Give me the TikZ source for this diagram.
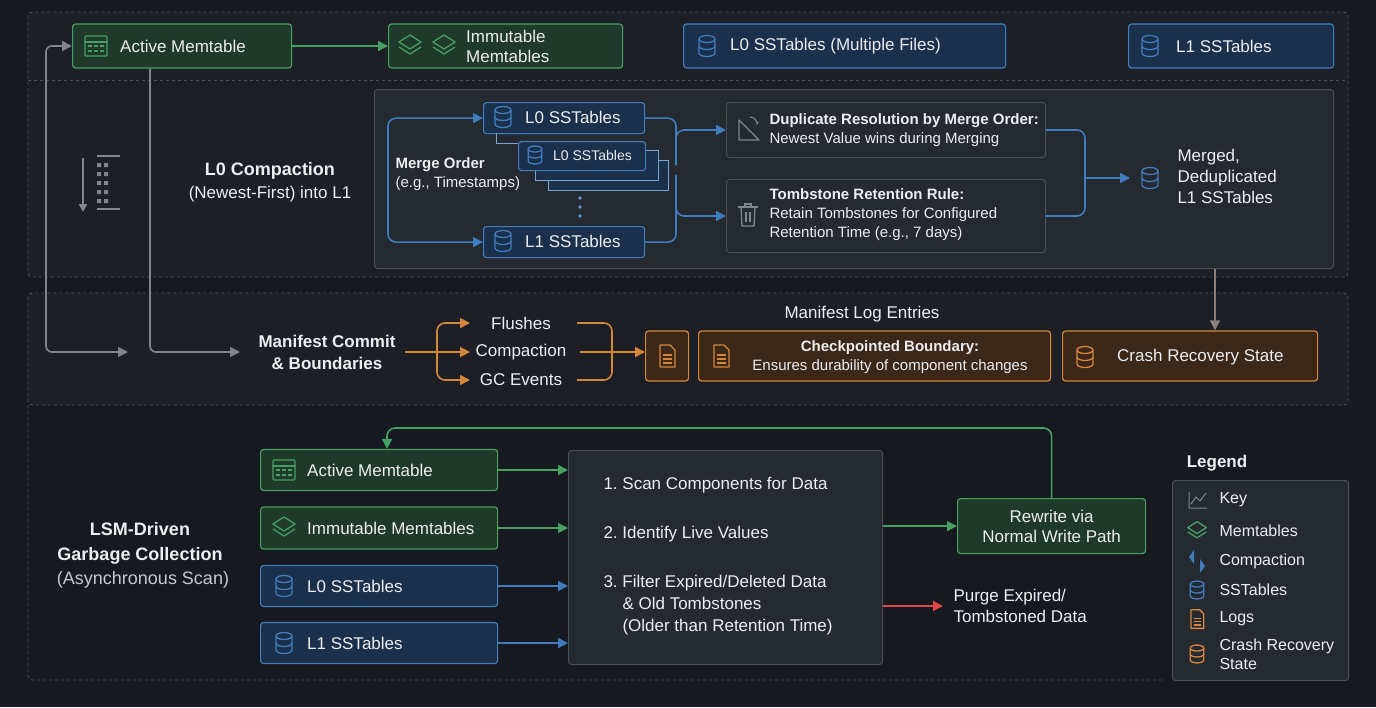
\documentclass[tikz,border=0pt]{standalone}
\usepackage{fontspec}
\setmainfont{Liberation Sans}
\usetikzlibrary{arrows.meta,positioning}
\frenchspacing
\definecolor{bg}{HTML}{16191F}
\definecolor{secfill}{HTML}{1C1F26}
\definecolor{dashc}{HTML}{4A4F59}
\definecolor{gfill}{HTML}{1F3A2A}
\definecolor{gline}{HTML}{45A062}
\definecolor{bfill}{HTML}{1B304B}
\definecolor{bline}{HTML}{3F7DC0}
\definecolor{ofill}{HTML}{3B2818}
\definecolor{oline}{HTML}{D7863A}
\definecolor{ifill}{HTML}{252930}
\definecolor{iline}{HTML}{4A4E57}
\definecolor{grayc}{HTML}{80858E}
\definecolor{brownc}{HTML}{8A8079}
\definecolor{redc}{HTML}{E04848}
\definecolor{txt}{HTML}{ECEEF1}
\definecolor{subtxt}{HTML}{C5C9CF}
\tikzset{
box/.style={rounded corners=3pt, line width=1.2pt, text=txt, font=\fontsize{17}{20}\selectfont},
gbox/.style={box, draw=gline, fill=gfill},
bbox/.style={box, draw=bline, fill=bfill},
obox/.style={box, draw=oline, fill=ofill},
ibox/.style={box, draw=iline, fill=ifill, line width=1pt},
sec/.style={draw=dashc, dashed, line width=0.9pt, rounded corners=4pt, fill=secfill},
lbl/.style={text=txt, font=\fontsize{17}{21}\selectfont, align=center},
tl/.style={text=txt, font=\fontsize{17}{20}\selectfont, align=left, anchor=west, inner sep=0pt},
hlbl/.style={text=txt, font=\bfseries\fontsize{18}{22}\selectfont, align=center},
tip/.style={-{Triangle[length=10pt,width=10pt]}},
garr/.style={tip, line width=1.6pt, draw=gline},
barr/.style={tip, line width=1.6pt, draw=bline, rounded corners=8pt},
oarr/.style={tip, line width=1.6pt, draw=oline, rounded corners=8pt},
gyarr/.style={tip, line width=1.6pt, draw=grayc, rounded corners=6pt},
pics/db/.style={code={
  \draw[#1, line width=1.3pt] (-8,-7) -- (-8,7) arc(180:0:8 and 3.5) -- (8,-7);
  \draw[#1, line width=1.3pt] (0,-7) ellipse (8 and 3.5);
  \draw[#1, line width=1.3pt] (-8,0) arc(180:0:8 and 3.5);}},
pics/doc/.style={code={
  \draw[#1, line width=1.3pt, line join=round] (-7,-11) -- (3,-11) -- (8,-6) -- (8,11) -- (-7,11) -- cycle;
  \foreach \yy in {-1,3,7} \draw[#1, line width=1.1pt] (-4,\yy) -- (5,\yy);}},
pics/tbl/.style={code={
  \draw[#1, line width=1.3pt, rounded corners=1pt] (-11,-10) rectangle (11,10);
  \draw[#1, line width=1.3pt] (-11,-4) -- (11,-4);
  \foreach \xx in {-6,0,6} \foreach \yy in {0,5} \fill[#1] (\xx-2,\yy-1.3) rectangle (\xx+2,\yy+1.3);}},
pics/layers/.style={code={
  \draw[#1, line width=1.3pt, line join=round] (0,-11) -- (11,-4) -- (0,3) -- (-11,-4) -- cycle;
  \draw[#1, line width=1.3pt, line join=round] (-11,1) -- (0,8) -- (11,1);}},
pics/trash/.style={code={
  \draw[#1, line width=1.3pt] (-10,-8) -- (10,-8) (-3,-8) -- (-3,-11) -- (3,-11) -- (3,-8);
  \draw[#1, line width=1.3pt] (-7,-8) -- (-6,11) -- (6,11) -- (7,-8);
  \draw[#1, line width=1.1pt] (-2,-3) -- (-2,7) (2,-3) -- (2,7);}}
}
\begin{document}
\begin{tikzpicture}[x=1pt,y=-1pt]
\fill[bg] (0,0) rectangle (1376,707);
\useasboundingbox (0,0) rectangle (1376,707);
% sections
\draw[sec] (28,12) rectangle (1348,277);
\draw[dashc, dashed, line width=0.9pt] (28,80) -- (1348,80);
\draw[sec] (28,293) rectangle (1348,405);
\draw[dashc, dashed, line width=0.9pt, rounded corners=4pt] (28,405) -- (28,680) -- (1165,680);
% top row
\node (am) [gbox, minimum width=219, minimum height=44, anchor=west] at (72,46) {};
\pic at (96,46) {tbl=gline};
\node (amt) [tl] at (120,46) {Active Memtable};
\node (im) [gbox, minimum width=234, minimum height=44, anchor=west] at (388,46) {};
\pic at (410,46) {layers=gline};
\pic at (444,46) {layers=gline};
\node (imt) [tl] at (466,46) {Immutable\\Memtables};
\node (l0top) [bbox, minimum width=322, minimum height=44, anchor=west] at (683,46) {};
\pic at (707,46) {db=bline};
\node (l0tt) [tl] at (730,46) {L0 SSTables (Multiple Files)};
\node (l1top) [bbox, minimum width=205, minimum height=44, anchor=west] at (1128,46) {};
\pic at (1150,46) {db=bline};
\node (l1tt) [tl] at (1176,46) {L1 SSTables};
\draw[garr] (am) -- (im);
% compaction
\node (ccap) [hlbl] at (270,171) {L0 Compaction};
\node (csub) [lbl] at (270,194) {(Newest-First) into L1};
\draw[grayc, -{Triangle[length=8pt,width=8pt]}, line width=1.5pt] (83,158) -- (83,212);
\foreach \yy in {165,174,183,192,201} \fill[grayc] (97,\yy-2) rectangle (101,\yy+2) (104,\yy-2) rectangle (108,\yy+2);
\draw[grayc, line width=2.5pt] (97,156) -- (120,156) (97,209) -- (120,209);
\node (cbox) [ibox, minimum width=959, minimum height=179, anchor=north west] at (374,89) {};
\draw[bline!70, line width=1pt, fill=bfill] (548,160) rectangle (668,190);
\draw[bline!70, line width=1pt, fill=bfill] (535,150) rectangle (658,180);
\node (l0a) [bbox, minimum width=161, minimum height=31, anchor=north west] at (483,102) {};
\pic at (503,117) {db=bline};
\node (l0at) [tl] at (525,117) {L0 SSTables};
\node (l0b) [bbox, minimum width=127, minimum height=29, anchor=north west] at (518,141) {};
\pic[scale=0.85] at (535,155) {db=bline};
\node (l0bt) [tl, font=\fontsize{14}{16}\selectfont] at (553,155) {L0 SSTables};
\draw[bline!70, line width=0.8pt] (496,133) -- (496,143) -- (518,143);
\foreach \yy in {198,207,216} \fill[bline!80] (580,\yy) circle (1.8);
\node (l1a) [bbox, minimum width=161, minimum height=31, anchor=north west] at (483,226) {};
\pic at (503,241) {db=bline};
\node (l1at) [tl] at (525,241) {L1 SSTables};
\node (mo) [text=txt, align=left, anchor=west, font=\fontsize{15}{19}\selectfont] at (392,174) {\textbf{Merge Order}\\(e.g., Timestamps)};
\coordinate (mleft) at (388,178);
\draw[barr] (mleft) |- (l0a.west);
\draw[barr] (mleft) |- (l1a.west);
\node (dup) [ibox, minimum width=319, minimum height=55, anchor=north west] at (726,102) {};
\node (dupt) [text=txt, align=left, anchor=west, font=\fontsize{15}{19}\selectfont] at (766,130) {\textbf{Duplicate Resolution by Merge Order:}\\Newest Value wins during Merging};
\draw[grayc, line width=1.2pt, line join=round] (739,120) -- (739,140) -- (759,140) -- cycle;
\draw[grayc, line width=1.1pt, -{Stealth[length=4pt]}] (750,117) arc(-90:10:7);
\node (tomb) [ibox, minimum width=319, minimum height=73, anchor=north west] at (726,179) {};
\node (tombt) [text=txt, align=left, anchor=west, font=\fontsize{15}{19}\selectfont] at (766,215) {\textbf{Tombstone Retention Rule:}\\Retain Tombstones for Configured\\Retention Time (e.g., 7 days)};
\pic at (748,215) {trash=grayc};
\coordinate (sp) at (676,170);
\draw[barr] (l0a.east) -| (sp) |- (dup.west);
\draw[barr] (l1a.east) -| (sp) |- (tomb.west);
\coordinate (mj) at (1085,178);
\node (mrg) [text=txt, align=left, anchor=west, font=\fontsize{17}{21}\selectfont] at (1174,176) {Merged,\\Deduplicated\\L1 SSTables};
\pic at (1150,178) {db=bline};
\coordinate (mtip) at (1130,178);
\draw[bline, line width=1.6pt, rounded corners=8pt] (dup.east) -| (mj) |- (tomb.east);
\draw[barr] (mj) -- (mtip);
% gray loops
\coordinate (gt1) at (128,352);
\coordinate (gl2) at (150,352);
\coordinate (gt2) at (240,352);
\draw[gyarr, {Triangle[length=10pt,width=10pt]}-{Triangle[length=10pt,width=10pt]}] (gt1) -| (46,46) -- (am.west);
\draw[gyarr] (am.south -| gl2) -- (gl2) -- (gt2);
% manifest
\node (mc) [hlbl, font=\bfseries\fontsize{17}{22}\selectfont] at (327,352) {Manifest Commit\\\& Boundaries};
\node (fl) [lbl] at (521,323) {Flushes};
\node (cp) [lbl] at (521,352) {Compaction};
\node (gc) [lbl] at (521,380) {GC Events};
\coordinate (os) at (437,352);
\coordinate (oe) at (612,352);
\draw[oline, line width=1.6pt] (405,352) -- (os);
\draw[oarr] (os) |- (470,323);
\draw[oarr] (os) -- (470,352);
\draw[oarr] (os) |- (470,380);
\draw[oline, line width=1.6pt, rounded corners=8pt] (577,323) -| (oe) |- (577,380);
\draw[oline, line width=1.6pt] (580,352) -- (oe);
\node (lg) [obox, minimum width=43, minimum height=50, anchor=west] at (645,356) {};
\pic at (667,356) {doc=oline};
\draw[oarr] (oe) -- (lg.west |- oe);
\node (mle) [lbl] at (862,314) {Manifest Log Entries};
\node (chk) [obox, minimum width=352, minimum height=50, anchor=west] at (698,356) {};
\pic at (721,356) {doc=oline};
\node (chkt) [text=txt, align=center, font=\fontsize{15}{19}\selectfont] at (890,357) {\textbf{Checkpointed Boundary:}\\Ensures durability of component changes};
\node (crs) [obox, minimum width=255, minimum height=50, anchor=west] at (1062,356) {};
\pic at (1085,357) {db=oline};
\node (crst) [tl] at (1117,357) {Crash Recovery State};
\draw[tip, line width=1.6pt, brownc] (cbox.south -| 1215,0) -- (crs.north -| 1215,0);
% garbage collection
\node (gct) [hlbl, font=\bfseries\fontsize{18}{25}\selectfont] at (140,543) {LSM-Driven\\Garbage Collection};
\node (gcs) [lbl, text=subtxt, font=\fontsize{18}{22}\selectfont] at (143,580) {(Asynchronous Scan)};
\node (gam) [gbox, minimum width=237, minimum height=41, anchor=west] at (260,470) {};
\pic at (284,470) {tbl=gline};
\node (gamt) [tl] at (307,470) {Active Memtable};
\node (gim) [gbox, minimum width=237, minimum height=42, anchor=west] at (260,528) {};
\pic at (284,528) {layers=gline};
\node (gimt) [tl] at (307,528) {Immutable Memtables};
\node (gl0) [bbox, minimum width=237, minimum height=41, anchor=west] at (260,586) {};
\pic at (284,586) {db=bline};
\node (gl0t) [tl] at (307,586) {L0 SSTables};
\node (gl1b) [bbox, minimum width=237, minimum height=41, anchor=west] at (260,643) {};
\pic at (284,643) {db=bline};
\node (gl1t) [tl] at (307,643) {L1 SSTables};
\node (scan) [ibox, minimum width=314, minimum height=214, anchor=north west] at (568,450) {};
\node (s1) [lbl, anchor=west] at (600,485) {1. Scan Components for Data};
\node (s2) [lbl, anchor=west] at (600,534) {2. Identify Live Values};
\node (s3) [lbl, anchor=north west, align=left, font=\fontsize{17}{22}\selectfont] at (600,572) {3. Filter Expired/Deleted Data\\\hspace*{19pt}\& Old Tombstones\\\hspace*{19pt}(Older than Retention Time)};
\draw[garr] (gam.east) -- (gam.east -| scan.west);
\draw[garr] (gim.east) -- (gim.east -| scan.west);
\draw[barr, rounded corners=0pt] (gl0.east) -- (gl0.east -| scan.west);
\draw[barr, rounded corners=0pt] (gl1b.east) -- (gl1b.east -| scan.west);
\node (rw) [gbox, minimum width=188, minimum height=55, anchor=north west, align=center] at (957,498) {Rewrite via\\Normal Write Path};
\draw[garr] (scan.east |- rw.west) -- (rw.west);
\draw[garr, rounded corners=8pt] (rw.north) |- (387,428) -- (gam.north -| 387,0);
\coordinate (pg) at (943,606);
\draw[tip, line width=1.6pt, redc] (scan.east |- pg) -- (pg);
\node (pgt) [lbl, anchor=west, align=left] at (950,606) {Purge Expired/\\Tombstoned Data};
% legend
\node (lgd) [hlbl, font=\bfseries\fontsize{17}{20}\selectfont] at (1217,463) {Legend};
\node (lbox) [box, draw=iline, fill=ifill, line width=1pt, minimum width=176, minimum height=200, anchor=north west] at (1172,480) {};
\draw[grayc, line width=1pt] (1189,492) -- (1189,508) -- (1207,508) (1191,504) -- (1196,497) -- (1200,501) -- (1206,493);
\node (k1) [lbl, anchor=west, font=\fontsize{16}{19}\selectfont] at (1216,500) {Key};
\pic[scale=0.85] at (1197,531) {layers=gline};
\node (k2) [lbl, anchor=west, font=\fontsize{16}{19}\selectfont] at (1216,531) {Memtables};
\fill[bline] (1194,550) -- (1189,557) -- (1194,564) -- cycle;
\fill[bline] (1200,559) -- (1205,566) -- (1200,573) -- cycle;
\node (k3) [lbl, anchor=west, font=\fontsize{16}{19}\selectfont] at (1216,561) {Compaction};
\pic[scale=0.85] at (1197,590) {db=bline};
\node (k4) [lbl, anchor=west, font=\fontsize{16}{19}\selectfont] at (1216,590) {SSTables};
\pic[scale=0.85] at (1197,619) {doc=oline};
\node (k5) [lbl, anchor=west, font=\fontsize{16}{19}\selectfont] at (1216,619) {Logs};
\pic[scale=0.85] at (1197,654) {db=oline};
\node (k6) [lbl, anchor=west, align=left, font=\fontsize{16}{19}\selectfont] at (1216,654) {Crash Recovery\\State};
\end{tikzpicture}
\end{document}
